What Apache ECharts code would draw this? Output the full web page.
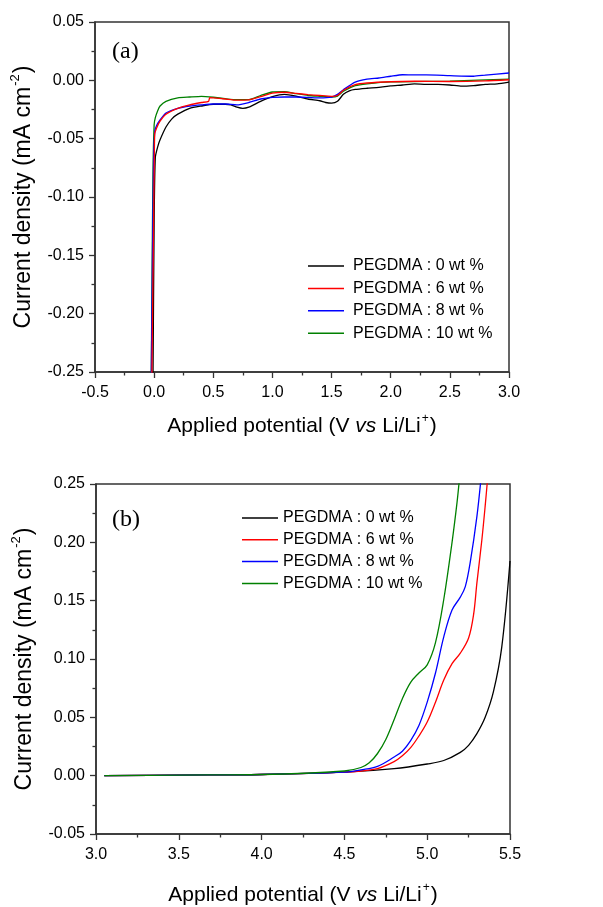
<!DOCTYPE html>
<html>
<head>
<meta charset="utf-8">
<script src="https://cdn.jsdelivr.net/npm/echarts@6/dist/echarts.min.js"></script>
<style>html,body{margin:0;padding:0;background:#fff}#c{width:603px;height:907px}</style>
</head>
<body>
<div id="c"></div>
<script>
// ---------- DATA ----------
const seriesNames = ['PEGDMA : 0 wt %', 'PEGDMA : 6 wt %', 'PEGDMA : 8 wt %', 'PEGDMA : 10 wt %'];
const seriesColors = ['#000000', '#ff0000', '#0000ff', '#008000'];

// Panel (a)
const potA0 = [-0.01, 0.0, 0.01, 0.03, 0.05, 0.1, 0.15, 0.2, 0.3, 0.4, 0.5, 0.6, 0.65, 0.7, 0.75, 0.8, 0.9, 1.0, 1.1, 1.2, 1.3, 1.4, 1.45, 1.5, 1.55, 1.6, 1.65, 1.7, 1.8, 1.9, 2.0, 2.1, 2.2, 2.3, 2.4, 2.5, 2.6, 2.7, 2.8, 2.9, 3.0];
const curA0 = [-0.26, -0.12, -0.066, -0.057, -0.051, -0.040, -0.033, -0.029, -0.024, -0.022, -0.0205, -0.0205, -0.021, -0.023, -0.024, -0.023, -0.018, -0.014, -0.012, -0.0135, -0.016, -0.0175, -0.019, -0.0195, -0.018, -0.012, -0.009, -0.0078, -0.0068, -0.006, -0.0048, -0.004, -0.003, -0.0035, -0.0035, -0.004, -0.005, -0.0045, -0.0035, -0.003, -0.0015];

const potA6 = [-0.02, -0.01, 0.0, 0.005, 0.02, 0.05, 0.1, 0.2, 0.3, 0.4, 0.46, 0.47, 0.5, 0.6, 0.7, 0.8, 0.9, 1.0, 1.1, 1.2, 1.3, 1.4, 1.5, 1.55, 1.6, 1.7, 1.8, 2.0, 2.2, 2.5, 2.8, 3.0];
const curA6 = [-0.26, -0.17, -0.08, -0.046, -0.041, -0.035, -0.029, -0.024, -0.021, -0.019, -0.018, -0.0148, -0.015, -0.016, -0.017, -0.0168, -0.014, -0.011, -0.0102, -0.0112, -0.0122, -0.013, -0.0137, -0.013, -0.0085, -0.0037, -0.0023, -0.0012, -0.0008, -0.001, -0.0005, 0.0005];

const potA8 = [-0.025, -0.015, -0.005, 0.005, 0.02, 0.05, 0.1, 0.2, 0.3, 0.4, 0.5, 0.6, 0.7, 0.8, 0.9, 1.0, 1.1, 1.2, 1.3, 1.4, 1.5, 1.55, 1.6, 1.7, 1.8, 1.9, 2.0, 2.1, 2.2, 2.3, 2.5, 2.7, 2.8, 3.0];
const curA8 = [-0.26, -0.16, -0.07, -0.044, -0.039, -0.034, -0.028, -0.024, -0.022, -0.021, -0.0203, -0.0203, -0.021, -0.019, -0.016, -0.0146, -0.0143, -0.0143, -0.0146, -0.015, -0.0143, -0.012, -0.008, -0.0015, 0.001, 0.002, 0.0035, 0.0048, 0.0046, 0.0046, 0.004, 0.0035, 0.0045, 0.0063];

const potA10 = [-0.025, -0.018, -0.01, 0.0, 0.01, 0.03, 0.05, 0.1, 0.2, 0.3, 0.4, 0.5, 0.6, 0.7, 0.8, 0.9, 1.0, 1.1, 1.2, 1.3, 1.4, 1.5, 1.55, 1.6, 1.7, 1.8, 2.0, 2.5, 3.0];
const curA10 = [-0.26, -0.17, -0.08, -0.038, -0.032, -0.026, -0.022, -0.018, -0.015, -0.0143, -0.0137, -0.0145, -0.0157, -0.0166, -0.0166, -0.013, -0.010, -0.0097, -0.0114, -0.013, -0.0137, -0.0143, -0.0135, -0.0094, -0.0046, -0.003, -0.0014, -0.0006, 0.0011];

// Panel (b)
const potB0 = [3.05, 3.5, 4.0, 4.5, 4.8, 5.0, 5.1, 5.2, 5.25, 5.3, 5.35, 5.4, 5.45, 5.5];
const curB0 = [0, 0.0005, 0.001, 0.003, 0.006, 0.010, 0.013, 0.020, 0.026, 0.036, 0.050, 0.072, 0.110, 0.184];

const potB6 = [3.05, 3.5, 4.0, 4.5, 4.6, 4.7, 4.8, 4.85, 4.9, 4.95, 5.0, 5.05, 5.1, 5.15, 5.2, 5.25, 5.28, 5.3, 5.33, 5.35, 5.365];
const curB6 = [0, 0.0005, 0.001, 0.003, 0.004, 0.006, 0.012, 0.017, 0.024, 0.034, 0.046, 0.063, 0.082, 0.096, 0.105, 0.118, 0.138, 0.165, 0.202, 0.231, 0.255];

const potB8 = [3.05, 3.5, 4.0, 4.5, 4.6, 4.7, 4.8, 4.85, 4.9, 4.95, 5.0, 5.05, 5.1, 5.15, 5.2, 5.23, 5.26, 5.3, 5.325];
const curB8 = [0, 0.0005, 0.001, 0.003, 0.005, 0.008, 0.016, 0.021, 0.030, 0.043, 0.063, 0.088, 0.119, 0.142, 0.153, 0.162, 0.183, 0.222, 0.255];

const potB10 = [3.05, 3.5, 4.0, 4.5, 4.6, 4.65, 4.7, 4.75, 4.8, 4.85, 4.9, 4.95, 5.0, 5.05, 5.1, 5.15, 5.18, 5.195];
const curB10 = [0, 0.0005, 0.001, 0.004, 0.007, 0.011, 0.019, 0.031, 0.048, 0.066, 0.080, 0.088, 0.095, 0.114, 0.151, 0.200, 0.234, 0.255];

const xTicksA = [-0.5, 3.0, 0.5];   // min, max, interval
const yTicksA = [-0.25, 0.05, 0.05];
const xTicksB = [3.0, 5.5, 0.5];
const yTicksB = [-0.05, 0.25, 0.05];

// ---------- BUILD ----------
const zip = (xs, ys) => xs.map((x, i) => [x, ys[i]]);
const dataA = [zip(potA0, curA0), zip(potA6, curA6), zip(potA8, curA8), zip(potA10, curA10)];
const dataB = [zip(potB0, curB0), zip(potB6, curB6), zip(potB8, curB8), zip(potB10, curB10)];

const FONT = 'Liberation Sans, Arial, sans-serif';
const AX = '#333';

function xAxisCfg(idx, t, gap) {
  return {
    type: 'value', gridIndex: idx, min: t[0], max: t[1], interval: t[2],
    nameLocation: 'middle', nameGap: gap,
    name: '{n|Applied potential (V }{i|vs}{n| Li/Li}{s|+}{n|)}',
    nameTextStyle: {
      rich: {
        n: { fontSize: 21, fontFamily: FONT, color: '#000', lineHeight: 24, verticalAlign: 'bottom' },
        i: { fontSize: 21, fontFamily: FONT, fontStyle: 'italic', color: '#000', lineHeight: 24, verticalAlign: 'bottom' },
        s: { fontSize: 12, fontFamily: FONT, color: '#000', lineHeight: 24, verticalAlign: 'top', padding: [0, 1, 0, 1] }
      }
    },
    axisLine: { show: true, onZero: false, lineStyle: { color: AX, width: 1.5 } },
    axisTick: { show: true, inside: false, length: 6, lineStyle: { color: AX, width: 1.3 } },
    minorTick: { show: true, splitNumber: 2, length: 3.5, lineStyle: { color: AX, width: 1.3 } },
    splitLine: { show: false },
    axisLabel: { margin: 13, fontSize: 16, fontFamily: FONT, color: '#000', formatter: v => v.toFixed(1) }
  };
}
function yAxisCfg(idx, t) {
  return {
    type: 'value', gridIndex: idx, min: t[0], max: t[1], interval: t[2],
    nameLocation: 'middle', nameGap: 60, nameRotate: 90,
    name: '{n|Current density (mA cm}{s|-2}{n|)}',
    nameTextStyle: {
      rich: {
        n: { fontSize: 23, fontFamily: FONT, color: '#000', lineHeight: 26, verticalAlign: 'bottom' },
        s: { fontSize: 13, fontFamily: FONT, color: '#000', lineHeight: 26, verticalAlign: 'top', padding: [0, 1, 0, 1] }
      }
    },
    axisLine: { show: true, onZero: false, lineStyle: { color: AX, width: 1.5 } },
    axisTick: { show: true, inside: false, length: 6, lineStyle: { color: AX, width: 1.3 } },
    minorTick: { show: true, splitNumber: 2, length: 3.5, lineStyle: { color: AX, width: 1.3 } },
    splitLine: { show: false },
    axisLabel: { margin: 11, fontSize: 16, fontFamily: FONT, color: '#000', formatter: v => v.toFixed(2) }
  };
}

const series = [];
dataA.forEach((d, i) => series.push({
  type: 'line', name: seriesNames[i], xAxisIndex: 0, yAxisIndex: 0, data: d,
  showSymbol: false, symbol: 'none', smooth: 0.2, clip: true,
  color: seriesColors[i], lineStyle: { width: 1.3, color: seriesColors[i] }, z: 2 + (i === 0 ? 0 : 4 - i)
}));
dataB.forEach((d, i) => series.push({
  type: 'line', name: seriesNames[i], xAxisIndex: 1, yAxisIndex: 1, data: d,
  showSymbol: false, symbol: 'none', smooth: 0.35, clip: true,
  color: seriesColors[i], lineStyle: { width: 1.3, color: seriesColors[i] }
}));

function legendCfg(left, top, gap, textPad) {
  return {
    orient: 'vertical', left: left, top: top, padding: 0, itemGap: gap,
    icon: 'rect', itemWidth: 36, itemHeight: 1.5,
    data: seriesNames,
    selectedMode: false,
    textStyle: { fontSize: 16, fontFamily: FONT, color: '#000', lineHeight: 16, padding: [0, 0, 0, textPad] }
  };
}

const option = {
  animation: false,
  backgroundColor: '#fff',
  grid: [
    { left: 95, top: 22, width: 414, height: 350, show: true, borderColor: AX, borderWidth: 1.5, backgroundColor: 'transparent' },
    { left: 96, top: 484, width: 414, height: 351, show: true, borderColor: AX, borderWidth: 1.5, backgroundColor: 'transparent' }
  ],
  xAxis: [xAxisCfg(0, xTicksA, 41), xAxisCfg(1, xTicksB, 48)],
  yAxis: [yAxisCfg(0, yTicksA), yAxisCfg(1, yTicksB)],
  legend: [legendCfg(308, 258, 6.4, 4), legendCfg(242, 510, 5.8, 0)],
  graphic: [
    { type: 'text', left: 112, top: 40, style: { text: '(a)', fontSize: 24, fontFamily: 'Liberation Serif, Times New Roman, serif', fill: '#000' } },
    { type: 'text', left: 112, top: 508, style: { text: '(b)', fontSize: 24, fontFamily: 'Liberation Serif, Times New Roman, serif', fill: '#000' } }
  ],
  series: series
};

const chart = echarts.init(document.getElementById('c'), null, { renderer: 'canvas' });
chart.setOption(option);
</script>
</body>
</html>
